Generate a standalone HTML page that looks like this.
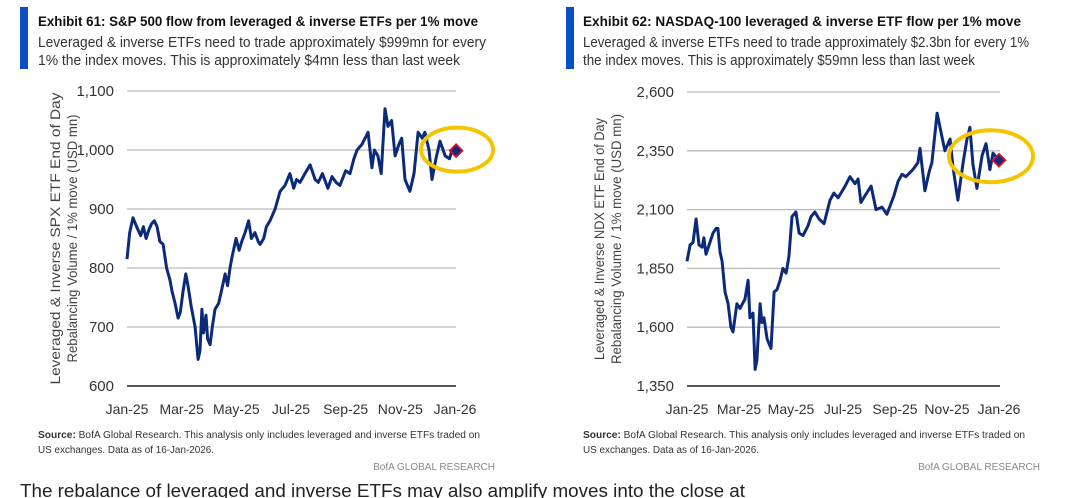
<!DOCTYPE html>
<html><head><meta charset="utf-8"><style>
html,body{margin:0;padding:0;background:#fff;}
svg{display:block;font-family:"Liberation Sans",sans-serif;}
</style></head><body>
<svg id="s" width="1066" height="498" viewBox="0 0 1066 498">
<g>
<rect x="20" y="7" width="8" height="62" fill="#0a4fc2"/>
<text x="38" y="26" font-size="13.5" font-weight="bold" fill="#111" textLength="440" lengthAdjust="spacingAndGlyphs">Exhibit 61: S&amp;P 500 flow from leveraged &amp; inverse ETFs per 1% move</text>
<text x="38" y="47" font-size="14.5" fill="#333" textLength="448" lengthAdjust="spacingAndGlyphs">Leveraged &amp; inverse ETFs need to trade approximately $999mn for every</text>
<text x="38" y="65" font-size="14.5" fill="#333" textLength="422" lengthAdjust="spacingAndGlyphs">1% the index moves. This is approximately $4mn less than last week</text>
<g id="c1"></g>
<text x="38" y="438" font-size="10" fill="#333" textLength="442" lengthAdjust="spacingAndGlyphs"><tspan font-weight="bold">Source:</tspan> BofA Global Research.  This analysis only includes leveraged and inverse ETFs traded on</text>
<text x="38" y="453" font-size="10" fill="#333" textLength="176" lengthAdjust="spacingAndGlyphs">US exchanges.  Data as of 16-Jan-2026.</text>
<text x="495" y="470" font-size="10" fill="#888" text-anchor="end">BofA GLOBAL RESEARCH</text>
</g>
<g>
<rect x="566" y="7" width="8" height="62" fill="#0a4fc2"/>
<text x="583" y="26" font-size="13.5" font-weight="bold" fill="#111" textLength="438" lengthAdjust="spacingAndGlyphs">Exhibit 62: NASDAQ-100 leveraged &amp; inverse ETF flow per 1% move</text>
<text x="583" y="47" font-size="14.5" fill="#333" textLength="446" lengthAdjust="spacingAndGlyphs">Leveraged &amp; inverse ETFs need to trade approximately $2.3bn for every 1%</text>
<text x="583" y="65" font-size="14.5" fill="#333" textLength="392" lengthAdjust="spacingAndGlyphs">the index moves. This is approximately $59mn less than last week</text>
<g id="c2"></g>
<text x="583" y="438" font-size="10" fill="#333" textLength="442" lengthAdjust="spacingAndGlyphs"><tspan font-weight="bold">Source:</tspan> BofA Global Research.  This analysis only includes leveraged and inverse ETFs traded on</text>
<text x="583" y="453" font-size="10" fill="#333" textLength="176" lengthAdjust="spacingAndGlyphs">US exchanges.  Data as of 16-Jan-2026.</text>
<text x="1040" y="470" font-size="10" fill="#888" text-anchor="end">BofA GLOBAL RESEARCH</text>
</g>
<text x="20" y="497" font-size="18" fill="#222" textLength="725" lengthAdjust="spacingAndGlyphs">The rebalance of leveraged and inverse ETFs may also amplify moves into the close at</text>
</svg>
<script>
const monthLabels=["Jan-25","Mar-25","May-25","Jul-25","Sep-25","Nov-25","Jan-26"];
const spxTicks=[600,700,800,900,1000,1100];
const ndxTicks=[1350,1600,1850,2100,2350,2600];
const spxMonths=[0,0.1,0.22,0.35,0.5,0.6,0.7,0.8,0.9,1.0,1.1,1.2,1.32,1.45,1.57,1.65,1.76,1.87,1.95,2.05,2.15,2.23,2.35,2.49,2.55,2.6,2.67,2.74,2.8,2.89,2.95,3.04,3.12,3.22,3.35,3.45,3.59,3.68,3.77,3.85,3.99,4.1,4.2,4.32,4.45,4.55,4.68,4.8,4.87,5.0,5.1,5.23,5.42,5.6,5.78,5.96,6.1,6.2,6.33,6.51,6.7,6.88,7.0,7.15,7.35,7.5,7.65,7.79,8.0,8.16,8.3,8.42,8.6,8.82,8.96,9.05,9.18,9.3,9.44,9.55,9.68,9.81,9.95,10.05,10.17,10.35,10.5,10.65,10.8,10.9,11.05,11.16,11.3,11.45,11.64,11.8,11.89,12.04];
const spxValues=[815,860,885,870,855,870,850,865,875,880,870,845,840,800,780,760,740,715,725,760,790,770,735,700,670,645,660,730,690,720,680,670,700,730,740,760,790,770,800,820,850,830,845,860,880,850,860,845,840,850,870,880,900,930,940,960,935,950,945,960,975,950,945,960,935,955,945,940,965,960,985,1000,1010,1030,970,1000,990,960,1070,1040,1050,990,1010,1020,950,930,960,1030,1020,1030,1000,950,985,1015,990,985,1000,999];
const ndxMonths=[0,.12,.23,.35,.46,.58,.65,.73,1.0,1.12,1.19,1.27,1.35,1.46,1.58,1.69,1.77,1.92,2.04,2.23,2.35,2.42,2.54,2.62,2.69,2.81,2.88,2.96,3.08,3.23,3.35,3.46,3.58,3.69,3.81,3.92,4.04,4.19,4.31,4.46,4.65,4.77,4.92,5.08,5.27,5.5,5.65,5.81,6.08,6.27,6.46,6.58,6.69,6.85,7.08,7.27,7.5,7.69,7.96,8.12,8.27,8.42,8.69,8.88,8.96,9.15,9.31,9.42,9.62,9.73,9.92,10.12,10.23,10.42,10.62,10.77,10.88,11.0,11.15,11.35,11.5,11.65,11.77,12.0];
const ndxValues=[1880,1950,1960,2060,1950,1940,1980,1910,2000,2020,2020,1920,1880,1750,1700,1600,1580,1700,1680,1720,1800,1640,1660,1420,1460,1700,1620,1640,1550,1510,1750,1760,1800,1850,1830,1900,2070,2090,2000,1990,2030,2070,2090,2060,2040,2140,2170,2150,2200,2240,2210,2230,2130,2160,2200,2100,2110,2080,2160,2220,2250,2240,2270,2300,2360,2180,2260,2300,2510,2450,2350,2400,2280,2140,2300,2400,2450,2290,2190,2330,2380,2270,2340,2310];
const NS="http://www.w3.org/2000/svg";
function mk(p,tag,a){const e=document.createElementNS(NS,tag);for(const k in a)e.setAttribute(k,a[k]);p.appendChild(e);return e;}
function chart(g,o){
  const x=m=>o.x0+(o.x1-o.x0)*m/12;
  const y=v=>o.yb+(o.yt-o.yb)*(v-o.ticks[0])/(o.ticks[o.ticks.length-1]-o.ticks[0]);
  o.ticks.forEach((t,i)=>{
    const l=mk(g,'line',{x1:o.x0,x2:o.x1+1,y1:y(t),y2:y(t),stroke:i==0?'#555':'#bbb','stroke-width':i==0?2:1.3});
    
    
    const tx=mk(g,'text',{x:o.x0-13,y:y(t)+5,'font-size':15,fill:'#333','text-anchor':'end'});
    tx.textContent=t.toLocaleString('en-US');
    
    
  });
  monthLabels.forEach((lab,i)=>{
    const tx=mk(g,'text',{x:x(i*2),y:414,'font-size':14,fill:'#333','text-anchor':'middle'});
    tx.textContent=lab;
    
    
  });
  const cy=(o.yt+o.yb)/2;
  o.titles.forEach((t,i)=>{
    const tx=mk(g,'text',{x:0,y:0,'font-size':14,fill:'#444','text-anchor':'middle',transform:`translate(${o.tx+i*17},${cy}) rotate(-90)`,textLength:t[1],lengthAdjust:'spacingAndGlyphs'});
    tx.textContent=t[0];
    
    
  });
  const n=Math.min(o.m.length,o.v.length);
  let d='';for(let i=0;i<n;i++)d+=(i?'L':'M')+x(o.m[i]).toFixed(1)+','+y(o.v[i]).toFixed(1);
  const p=mk(g,'path',{d:d,fill:'none',stroke:'#0c2a7a','stroke-width':3,'stroke-linejoin':'round'});
  
  
  const lx=x(o.m[n-1]),ly=y(o.v[n-1]);
  const el=mk(g,'ellipse',{cx:lx+o.ex,cy:ly+o.ey,rx:o.rx,ry:o.ry,fill:'none',stroke:'#f5c400','stroke-width':4});
  
  
  const dm=mk(g,'rect',{x:lx-4.5,y:ly-4.5,width:9,height:9,fill:'#0c2a7a',stroke:'#e0102a','stroke-width':1.8,transform:`rotate(45 ${lx} ${ly})`});
  
  
}
chart(document.getElementById('c1'),{x0:127,x1:455,yt:91,yb:386,ticks:spxTicks,m:spxMonths,v:spxValues,tx:60,
  titles:[["Leveraged & Inverse SPX ETF End of Day",292],["Rebalancing Volume / 1% move (USD mn)",248]],ex:1,ey:-1,rx:36,ry:22});
chart(document.getElementById('c2'),{x0:687,x1:999,yt:92,yb:386,ticks:ndxTicks,m:ndxMonths,v:ndxValues,tx:604,
  titles:[["Leveraged & Inverse NDX ETF End of Day",242],["Rebalancing Volume / 1% move (USD mn)",250]],ex:-8,ey:-4,rx:42,ry:26});
</script>
</body></html>
